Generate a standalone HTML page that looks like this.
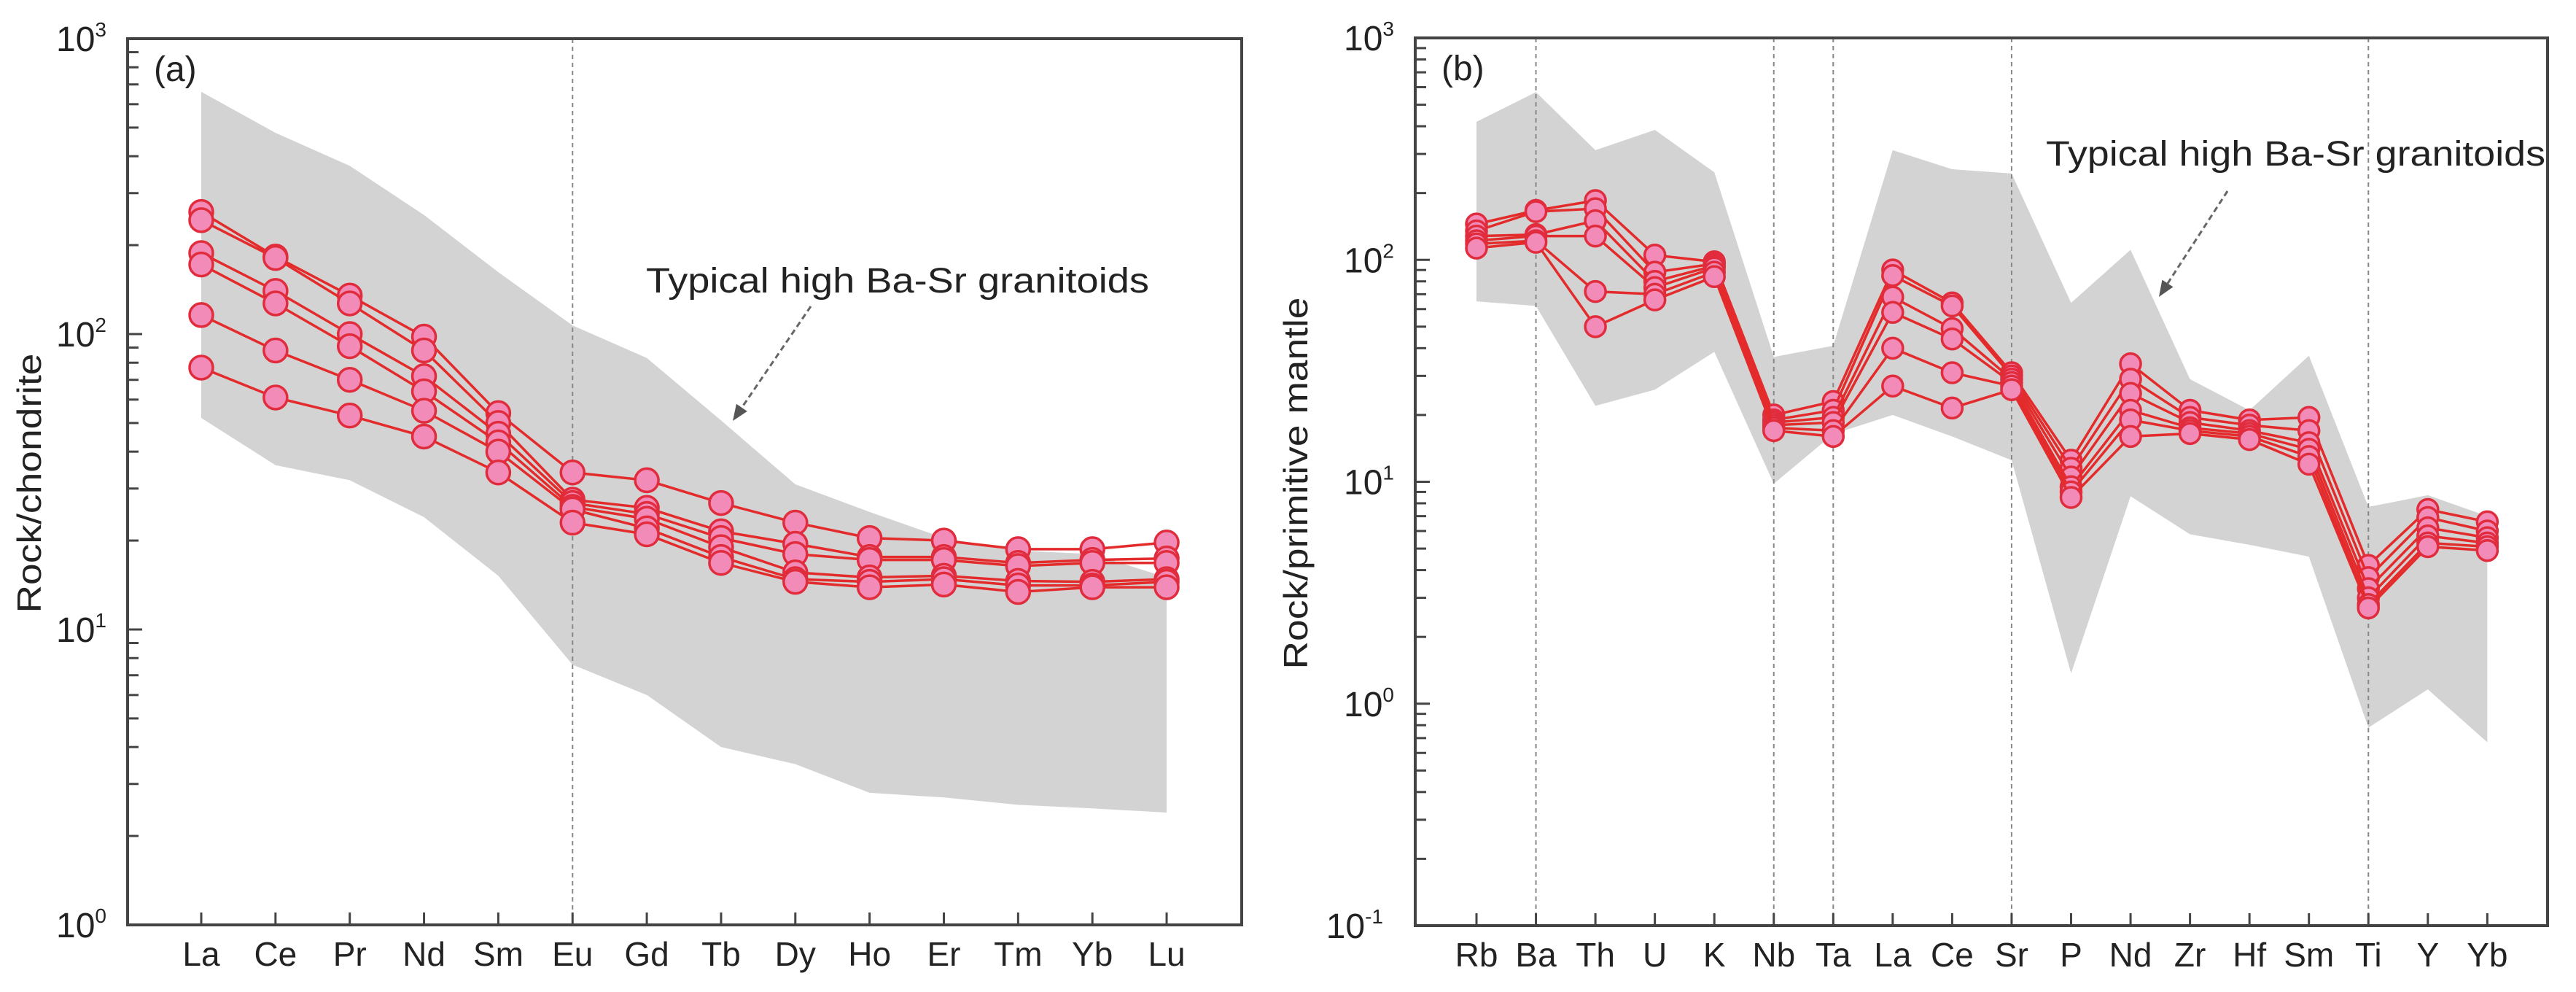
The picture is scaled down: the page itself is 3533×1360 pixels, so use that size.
<!DOCTYPE html>
<html><head><meta charset="utf-8">
<style>
html,body{margin:0;padding:0;background:#fff;}
svg{display:block;}
text{font-family:"Liberation Sans",sans-serif;fill:#222;}
</style></head>
<body>
<svg id="fig" width="3533" height="1360" viewBox="0 0 3533 1360" xmlns="http://www.w3.org/2000/svg">
  <g id="pa"></g>
  <g id="pb"></g>
</svg>
<script>
// ---------- Panel (a) data ----------
const catsA = ["La","Ce","Pr","Nd","Sm","Eu","Gd","Tb","Dy","Ho","Er","Tm","Yb","Lu"];
const a1 = [259,183,135,98,54,34,32,26.8,23,20.4,20,18.7,18.7,19.7];
const a2 = [243,181,127,88,50,27.5,25.8,21.5,19.5,17.6,17.6,16.8,17.2,17.4];
const a3 = [188,140,100,72,46,26.8,24.6,20.4,18,17.2,17.2,16.4,16.8,16.8];
const a4 = [172,127,91,64,43,26,23.7,19,15.6,15,15.2,14.6,14.5,14.8];
const a5 = [116,88,70,55,40,25.5,22,17.6,14.8,14.5,14.8,14.1,14.1,14.5];
const a6 = [77,61,53,45,34,23,21,16.8,14.5,13.9,14.2,13.4,13.9,13.9];
const envAUpper = [661,480,371,253,162,107,83,51,31,25,20.4,18.5,18,15];
const envALower = [52,36,32,24,15.2,7.6,6,4,3.5,2.8,2.7,2.55,2.48,2.4];
const seriesA = [a1,a2,a3,a4,a5,a6];
const dashedA = ["Eu"];
const yTicksA = [0,1,2,3];

// ---------- Panel (b) data ----------
const catsB = ["Rb","Ba","Th","U","K","Nb","Ta","La","Ce","Sr","P","Nd","Zr","Hf","Sm","Ti","Y","Yb"];
const b1 = [145,167,185,105,98,20,23,90,64,31,12.5,34,21,19,19.5,4.2,7.5,6.6];
const b2 = [135,165,170,88,96,19,21,85,62,30,11.5,29,19.5,18,17,3.7,6.9,6.0];
const b3 = [128,130,150,80,94,18.5,19.5,68,49,29,10.5,25,18.5,17,15,3.3,6.2,5.6];
const b4 = [122,128,128,75,92,18,18.5,58,44,28,9.5,21,17.5,16.5,14,3.0,5.7,5.3];
const b5 = [118,122,72,70,88,17.5,17,40,31,27,9,19,17,16,13,2.8,5.3,5.1];
const b6 = [113,120,50,66,84,17,16,27,21.5,26,8.5,16,16.5,15.5,12,2.7,5.1,4.9];
const envBUpper = [419,570,312,385,248,36.5,41,312,256,245,64,111,29,21,37,7.7,8.7,7];
const envBLower = [65,62,22,26,38.5,9.8,16.4,20,16,12.5,1.37,8.6,5.8,5.2,4.6,0.78,1.16,0.67];
const seriesB = [b1,b2,b3,b4,b5,b6];
const dashedB = ["Ba","Nb","Ta","Sr","Ti"];
const yTicksB = [-1,0,1,2,3];

const NS = "http://www.w3.org/2000/svg";
function mk(parent, tag, attrs){
  const e = document.createElementNS(NS, tag);
  for (const k in attrs) e.setAttribute(k, attrs[k]);
  parent.appendChild(e);
  return e;
}

function drawPanel(g, cfg){
  const {L,T,R,B,x0,dx,lmin,lmax,cats,series,up,lo,dashed,ticks,r,label,title,titleX,titleLen,ann,arrow} = cfg;
  const xs = i => x0 + i*dx;
  const ys = v => B - (Math.log10(v)-lmin)/(lmax-lmin)*(B-T);
  // envelope
  let d = "";
  up.forEach((v,i)=>{ d += (i?"L":"M") + xs(i) + " " + ys(v) + " "; });
  for (let i=lo.length-1;i>=0;i--) d += "L" + xs(i) + " " + ys(lo[i]) + " ";
  const env = mk(g,"path",{d:d+"Z",fill:"#d3d3d3",stroke:"none"});
  
  
  // dashed lines
  dashed.forEach(c=>{
    const i = cats.indexOf(c);
    const ln = mk(g,"line",{x1:xs(i),x2:xs(i),y1:T,y2:B,stroke:"#888","stroke-width":2,"stroke-dasharray":"6 5"});
    
    
  });
  // series
  series.forEach((s,si)=>{
    const sg = mk(g,"g",{});
    
    
    const pts = s.map((v,i)=>xs(i)+","+ys(v)).join(" ");
    mk(sg,"polyline",{points:pts,fill:"none",stroke:"#e42b2b","stroke-width":3.5});
    s.forEach((v,i)=>{
      const c = mk(sg,"circle",{cx:xs(i),cy:ys(v),r:r,fill:"#f28bb8",stroke:"#e02c3c","stroke-width":3.5});
      
      
    });
  });
  // frame
  const fr = mk(g,"rect",{x:L,y:T,width:R-L,height:B-T,fill:"none",stroke:"#444","stroke-width":4});
  
  
  // y ticks
  for (let e=lmin;e<lmax;e++){
    for (let m=1;m<10;m++){
      const y = ys(m*Math.pow(10,e));
      mk(g,"line",{x1:L,x2:L+(m===1?20:15),y1:y,y2:y,stroke:"#444","stroke-width":3});
    }
  }
  ticks.forEach(e=>{
    const y = ys(Math.pow(10,e));
    const t = mk(g,"text",{x:L-28,y:y+17,"text-anchor":"end","font-size":48});
    
    
    t.textContent = "10";
    const sp = mk(t,"tspan",{"font-size":28,dy:-20});
    sp.textContent = String(e);
    t.setAttribute("x", L-14 - (String(e).length*15));
  });
  // x ticks and labels
  cats.forEach((c,i)=>{
    mk(g,"line",{x1:xs(i),x2:xs(i),y1:B,y2:B-17,stroke:"#444","stroke-width":3});
    const t = mk(g,"text",{x:xs(i),y:B+56,"text-anchor":"middle","font-size":46});
    
    
    t.textContent = c;
  });
  // panel label
  const pl = mk(g,"text",{x:L+36,y:T+58,"font-size":48});
  
  
  pl.textContent = label;
  // y title
  const yt = mk(g,"text",{x:0,y:0,"text-anchor":"middle","font-size":46,textLength:titleLen,lengthAdjust:"spacingAndGlyphs",transform:`translate(${titleX},${(T+B)/2+2}) rotate(-90)`});
  
  
  yt.textContent = title;
  // annotation
  const at = mk(g,"text",{x:ann[0],y:ann[1],"font-size":48,textLength:ann[2],lengthAdjust:"spacingAndGlyphs"});
  
  
  at.textContent = "Typical high Ba-Sr granitoids";
  const [ax1,ay1,ax2,ay2] = arrow;
  const ar = mk(g,"g",{});
  
  
  const ang = Math.atan2(ay2-ay1, ax2-ax1);
  const hx = ax2 - 22*Math.cos(ang), hy = ay2 - 22*Math.sin(ang);
  mk(ar,"line",{x1:ax1,y1:ay1,x2:hx,y2:hy,stroke:"#666","stroke-width":3,"stroke-dasharray":"8 5"});
  const px = -Math.sin(ang)*9, py = Math.cos(ang)*9;
  mk(ar,"polygon",{points:`${ax2},${ay2} ${hx+px},${hy+py} ${hx-px},${hy-py}`,fill:"#555"});
}

drawPanel(document.getElementById("pa"), {
  L:175,T:53,R:1703,B:1268,x0:276,dx:101.85,lmin:0,lmax:3,
  cats:catsA,series:seriesA,up:envAUpper,lo:envALower,dashed:dashedA,ticks:yTicksA,r:16,
  label:"(a)",title:"Rock/chondrite",titleX:56,titleLen:356,
  ann:[886,401,690],arrow:[1112,420,1005,577]
});
drawPanel(document.getElementById("pb"), {
  L:1941,T:52,R:3494,B:1269,x0:2025,dx:81.55,lmin:-1,lmax:3,
  cats:catsB,series:seriesB,up:envBUpper,lo:envBLower,dashed:dashedB,ticks:yTicksB,r:14,
  label:"(b)",title:"Rock/primitive mantle",titleX:1793,titleLen:510,
  ann:[2806,227,685],arrow:[3055,262,2961,407]
});
</script>
</body></html>
